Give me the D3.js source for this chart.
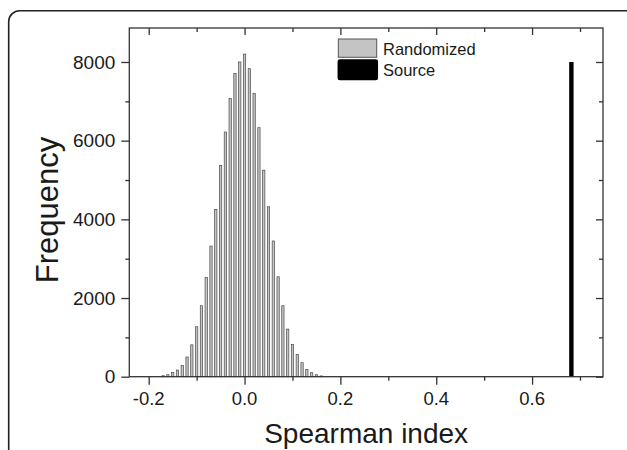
<!DOCTYPE html>
<html>
<head>
<meta charset="utf-8">
<script src="https://cdn.jsdelivr.net/npm/d3@7"></script>
<style>
  body { margin: 0; background: #fff; }
  text { font-family: "Liberation Sans", Arial, sans-serif; fill: #1a1a1a; }
</style>
</head>
<body>
<div class="canvas"></div>
<script>
// histogram of randomized spearman index (bin centres, counts)
const binCenters = [-0.17, -0.16, -0.15, -0.14, -0.13, -0.12, -0.11, -0.10, -0.09, -0.08,
  -0.07, -0.06, -0.05, -0.04, -0.03, -0.02, -0.01, 0.00, 0.01, 0.02, 0.03, 0.04, 0.05,
  0.06, 0.07, 0.08, 0.09, 0.10, 0.11, 0.12, 0.13, 0.14, 0.15, 0.16];
const counts = [25, 51, 105, 170, 285, 500, 810, 1270, 1805, 2520,
  3320, 4250, 5370, 6220, 7070, 7710, 8000, 8200, 7830, 7200, 6330, 5250, 4320,
  3450, 2540, 1805, 1210, 820, 568, 356, 186, 102, 51, 20];

// the source value
const sourceX = [0.682];
const sourceCount = [8000];

const xTicks = [-0.2, 0.0, 0.2, 0.4, 0.6];
const xTickLabels = ['-0.2', '0.0', '0.2', '0.4', '0.6'];
const xMinor = [-0.1, 0.1, 0.3, 0.5, 0.7];
const yTicks = [0, 2000, 4000, 6000, 8000];
const yMinor = [1000, 3000, 5000, 7000];
const legendNames = ['Randomized', 'Source'];

const dims = { width: 627, height: 450 };
const plot = { left: 129.3, right: 603, top: 28, bottom: 376.7 };

const svg = d3
  .select('.canvas')
  .append('svg')
  .attr('width', dims.width)
  .attr('height', dims.height);

// outer figure frame (runs off the right and bottom)
svg.append('rect')
  .attr('x', 8.7).attr('y', 10.7)
  .attr('width', 700).attr('height', 600)
  .attr('rx', 11)
  .attr('fill', 'none')
  .attr('stroke', '#222')
  .attr('stroke-width', 1.6);

const x = d3.scaleLinear().domain([-0.2405, 0.748]).range([plot.left, plot.right]);
const y = d3.scaleLinear().domain([0, 8864]).range([plot.bottom, plot.top]);

const binW = 0.01;
const barFrac = 0.48;

// histogram bars
svg.append('g')
  .selectAll('rect')
  .data(binCenters)
  .enter()
  .append('rect')
  .attr('x', (d) => x(d - binW * barFrac / 2))
  .attr('width', x(binW * barFrac) - x(0))
  .attr('y', (d, i) => y(counts[i]))
  .attr('height', (d, i) => y(0) - y(counts[i]))
  .attr('fill', '#c4c4c4')
  .attr('stroke', '#4a4a4a')
  .attr('stroke-width', 0.7);

// source bar
svg.append('g')
  .selectAll('rect')
  .data(sourceX)
  .enter()
  .append('rect')
  .attr('x', (d) => x(d) - 2.2)
  .attr('width', 4.4)
  .attr('y', (d, i) => y(sourceCount[i]))
  .attr('height', (d, i) => y(0) - y(sourceCount[i]))
  .attr('fill', '#000');

// axes: bottom/left ticks point out, top/right ticks point in
const axisColor = '#333';
const mkAxis = (axis, ticks, size) => axis.tickValues(ticks).tickSize(size).tickFormat('');

const axBottom = svg.append('g').attr('transform', `translate(0, ${plot.bottom})`);
axBottom.append('g').call(mkAxis(d3.axisBottom(x), xMinor, 4));
axBottom.append('g').call(mkAxis(d3.axisBottom(x), xTicks, 8));

const axTop = svg.append('g').attr('transform', `translate(0, ${plot.top})`);
axTop.append('g').call(mkAxis(d3.axisBottom(x), xMinor, 4));
axTop.append('g').call(mkAxis(d3.axisBottom(x), xTicks, 7));

const axLeft = svg.append('g').attr('transform', `translate(${plot.left}, 0)`);
axLeft.append('g').call(mkAxis(d3.axisLeft(y), yMinor, 4));
axLeft.append('g').call(mkAxis(d3.axisLeft(y), yTicks, 8));

const axRight = svg.append('g').attr('transform', `translate(${plot.right}, 0)`);
axRight.append('g').call(mkAxis(d3.axisLeft(y), yMinor, 4));
axRight.append('g').call(mkAxis(d3.axisLeft(y), yTicks, 7));

svg.selectAll('.domain').remove();
svg.selectAll('.tick line').attr('stroke', axisColor).attr('stroke-width', 1.3);

// frame
svg.append('rect')
  .attr('x', plot.left).attr('y', plot.top)
  .attr('width', plot.right - plot.left)
  .attr('height', plot.bottom - plot.top)
  .attr('fill', 'none')
  .attr('stroke', axisColor)
  .attr('stroke-width', 1.3);

// tick labels
svg.append('g')
  .selectAll('text')
  .data(xTicks)
  .enter()
  .append('text')
  .attr('x', (d) => x(d))
  .attr('y', 405)
  .attr('text-anchor', 'middle')
  .attr('font-size', 18.5)
  .text((d, i) => xTickLabels[i]);

svg.append('g')
  .selectAll('text')
  .data(yTicks)
  .enter()
  .append('text')
  .attr('x', plot.left - 14)
  .attr('y', (d) => y(d))
  .attr('dy', '0.35em')
  .attr('text-anchor', 'end')
  .attr('font-size', 19)
  .text((d) => d);

// axis titles
svg.append('text')
  .attr('x', (plot.left + plot.right) / 2)
  .attr('y', 443)
  .attr('text-anchor', 'middle')
  .attr('font-size', 28)
  .text('Spearman index');

svg.append('text')
  .attr('transform', 'translate(58, 210) rotate(-90)')
  .attr('text-anchor', 'middle')
  .attr('font-size', 31)
  .text('Frequency');

// legend
const legend = svg.append('g');
legend.append('rect')
  .attr('x', 338.3).attr('y', 39)
  .attr('width', 38.4).attr('height', 18.3)
  .attr('fill', '#c4c4c4')
  .attr('stroke', '#555')
  .attr('stroke-width', 1);
legend.append('rect')
  .attr('x', 338.3).attr('y', 60)
  .attr('width', 39).attr('height', 19.5)
  .attr('rx', 1.5)
  .attr('fill', '#000')
  .attr('stroke', '#000')
  .attr('stroke-width', 1.5);
legend.selectAll('text')
  .data(legendNames)
  .enter()
  .append('text')
  .attr('x', 383)
  .attr('y', (d, i) => 55 + i * 20.5)
  .attr('font-size', 16.5)
  .text((d) => d);
</script>
</body>
</html>
